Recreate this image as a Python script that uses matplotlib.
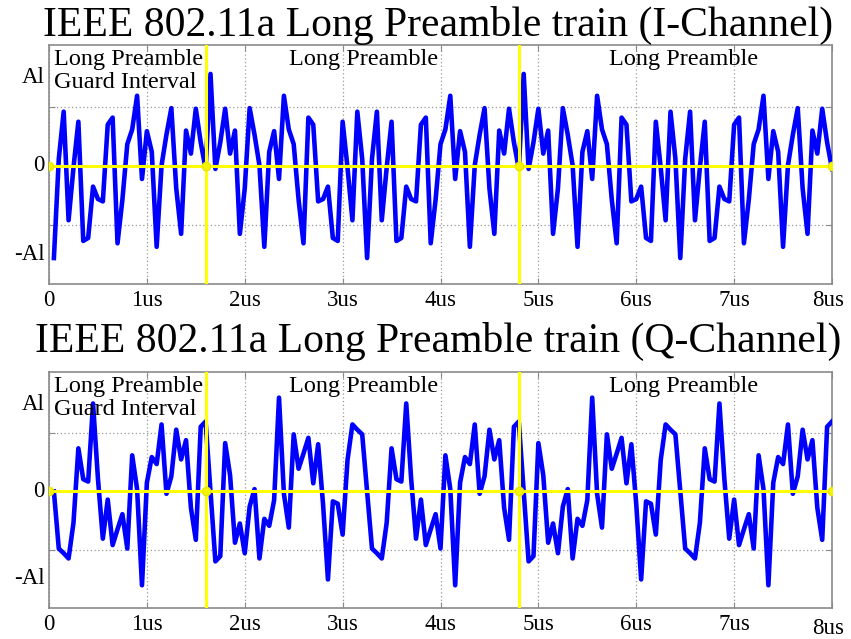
import matplotlib
matplotlib.use("Agg")
import matplotlib.pyplot as plt
import matplotlib.transforms as mtransforms
import numpy as np

plt.rcParams['font.family'] = ['Liberation Serif', 'DejaVu Serif']

# IEEE 802.11a long training symbol (64 samples, time domain), I and Q parts
lts_i = [0.156, -0.005, 0.040, 0.097, 0.021, 0.060, -0.115, -0.038,
         0.098, 0.053, 0.001, -0.137, 0.024, 0.059, -0.022, 0.119,
         0.062, 0.037, -0.057, -0.131, 0.082, 0.070, -0.060, -0.056,
         -0.035, -0.122, -0.127, 0.075, -0.003, -0.092, 0.092, 0.012,
         -0.156, 0.012, 0.092, -0.092, -0.003, 0.075, -0.127, -0.122,
         -0.035, -0.056, -0.060, 0.070, 0.082, -0.131, -0.057, 0.037,
         0.062, 0.119, -0.022, 0.059, 0.024, -0.137, 0.001, 0.053,
         0.098, -0.038, -0.115, 0.060, 0.021, 0.097, 0.040, -0.005]
lts_q = [0.000, -0.120, -0.111, 0.083, 0.028, -0.088, -0.055, -0.106,
         -0.026, 0.004, -0.115, -0.047, -0.059, -0.015, 0.161, -0.004,
         -0.062, 0.098, 0.039, 0.065, 0.092, 0.014, 0.081, -0.022,
         -0.151, -0.017, -0.021, -0.074, 0.054, 0.115, 0.106, 0.098,
         0.000, -0.098, -0.106, -0.115, -0.054, 0.074, 0.021, 0.017,
         0.151, 0.022, -0.081, -0.014, -0.092, -0.065, -0.039, -0.098,
         0.062, 0.004, -0.161, 0.015, 0.059, 0.047, 0.115, -0.004,
         0.026, 0.106, 0.055, 0.088, -0.028, -0.083, 0.111, 0.120]

# Preamble train: guard interval (last half of symbol) + two symbols
train_i = lts_i[32:] + lts_i + lts_i
train_q = lts_q[32:] + lts_q + lts_q
sample_period_us = 0.05
time_us = [(k + 1) * sample_period_us for k in range(len(train_i))]

boundaries_us = [1.6, 4.8]
marker_x = [0, 1.6, 4.8, 8]
xtick_vals = [0, 1, 2, 3, 4, 5, 6, 7, 8]
xtick_labels = ['0', '1us', '2us', '3us', '4us', '5us', '6us', '7us', '8us']
titles = ['IEEE 802.11a Long Preamble train (I-Channel)',
          'IEEE 802.11a Long Preamble train (Q-Channel)']
region_labels = ['Long Preamble\nGuard Interval', 'Long Preamble', 'Long Preamble']
region_x = [0.05, 3.21, 6.48]
amp = 0.15

W, H = 851, 639
fig = plt.figure(figsize=(W / 100, H / 100), dpi=100)
fig.patch.set_facecolor('white')

axes_px = [(49, 45, 832, 284), (49, 372, 832, 608)]
title_base = [36, 352]
frame_col = '#8a8a8a'

for idx, (series, (l, t, r, b)) in enumerate(zip([train_i, train_q], axes_px)):
    ax = fig.add_axes([l / W, 1 - b / H, (r - l) / W, (b - t) / H])
    ax.plot(time_us, series, color='#0000ff', lw=3.3, zorder=3,
            solid_joinstyle='round')
    ax.axhline(0, color='#ffff00', lw=2.2, zorder=4)
    for xb in boundaries_us:
        ax.axvline(xb, color='#ffff00', lw=2.2, zorder=4)
    ax.plot(marker_x, [0] * len(marker_x), 'o', color='#f5f500', ms=6,
            mec='#e8e800', zorder=5, clip_on=True)
    ax.set_xlim(0, 8)
    ax.set_ylim(-0.2, 0.205)
    ax.set_yticks([-0.1, 0, 0.1])
    ax.set_yticklabels([])
    ax.set_xticks(xtick_vals)
    ax.set_xticklabels([])
    ax.grid(True, linestyle=(0, (1, 2)), color='#9a9a9a', lw=0.9)
    ax.tick_params(direction='in', length=4, color=frame_col, top=True,
                   right=True, labelsize=15)
    for sp in ax.spines.values():
        sp.set_color(frame_col)
        sp.set_linewidth(1.2)

    # x tick labels
    for xv, lab in zip(xtick_vals, xtick_labels):
        dy = 0
        if lab == '8us' and idx == 1:
            dy = -4
        trans = mtransforms.offset_copy(ax.get_xaxis_transform(), fig=fig,
                                        x=-4 if lab == '8us' else 0, y=dy,
                                        units='dots')
        ax.text(xv, -0.025, lab, transform=trans, ha='center', va='top',
                fontsize=16.5)

    # y labels
    ytrans = mtransforms.blended_transform_factory(ax.transAxes, ax.transData)
    ax.text(-0.006, amp, 'Al', transform=ytrans, ha='right', va='center',
            fontsize=16.5)
    ax.text(-0.006, 0, '0', transform=ytrans, ha='right', va='center',
            fontsize=16.5)
    ax.text(-0.006, -amp, '-Al', transform=ytrans, ha='right', va='center',
            fontsize=16.5)

    # region labels
    ax.text(region_x[0], 0.198, region_labels[0], ha='left', va='top',
            fontsize=17.5, linespacing=1.12, zorder=6)
    for xr, lab in zip(region_x[1:], region_labels[1:]):
        ax.text(xr, 0.198, lab, ha='center', va='top', fontsize=17.5, zorder=6)

    fig.text(438 / W, 1 - title_base[idx] / H, titles[idx], ha='center',
             va='baseline', fontsize=30)

fig.savefig('out.png', dpi=100, facecolor='white')
